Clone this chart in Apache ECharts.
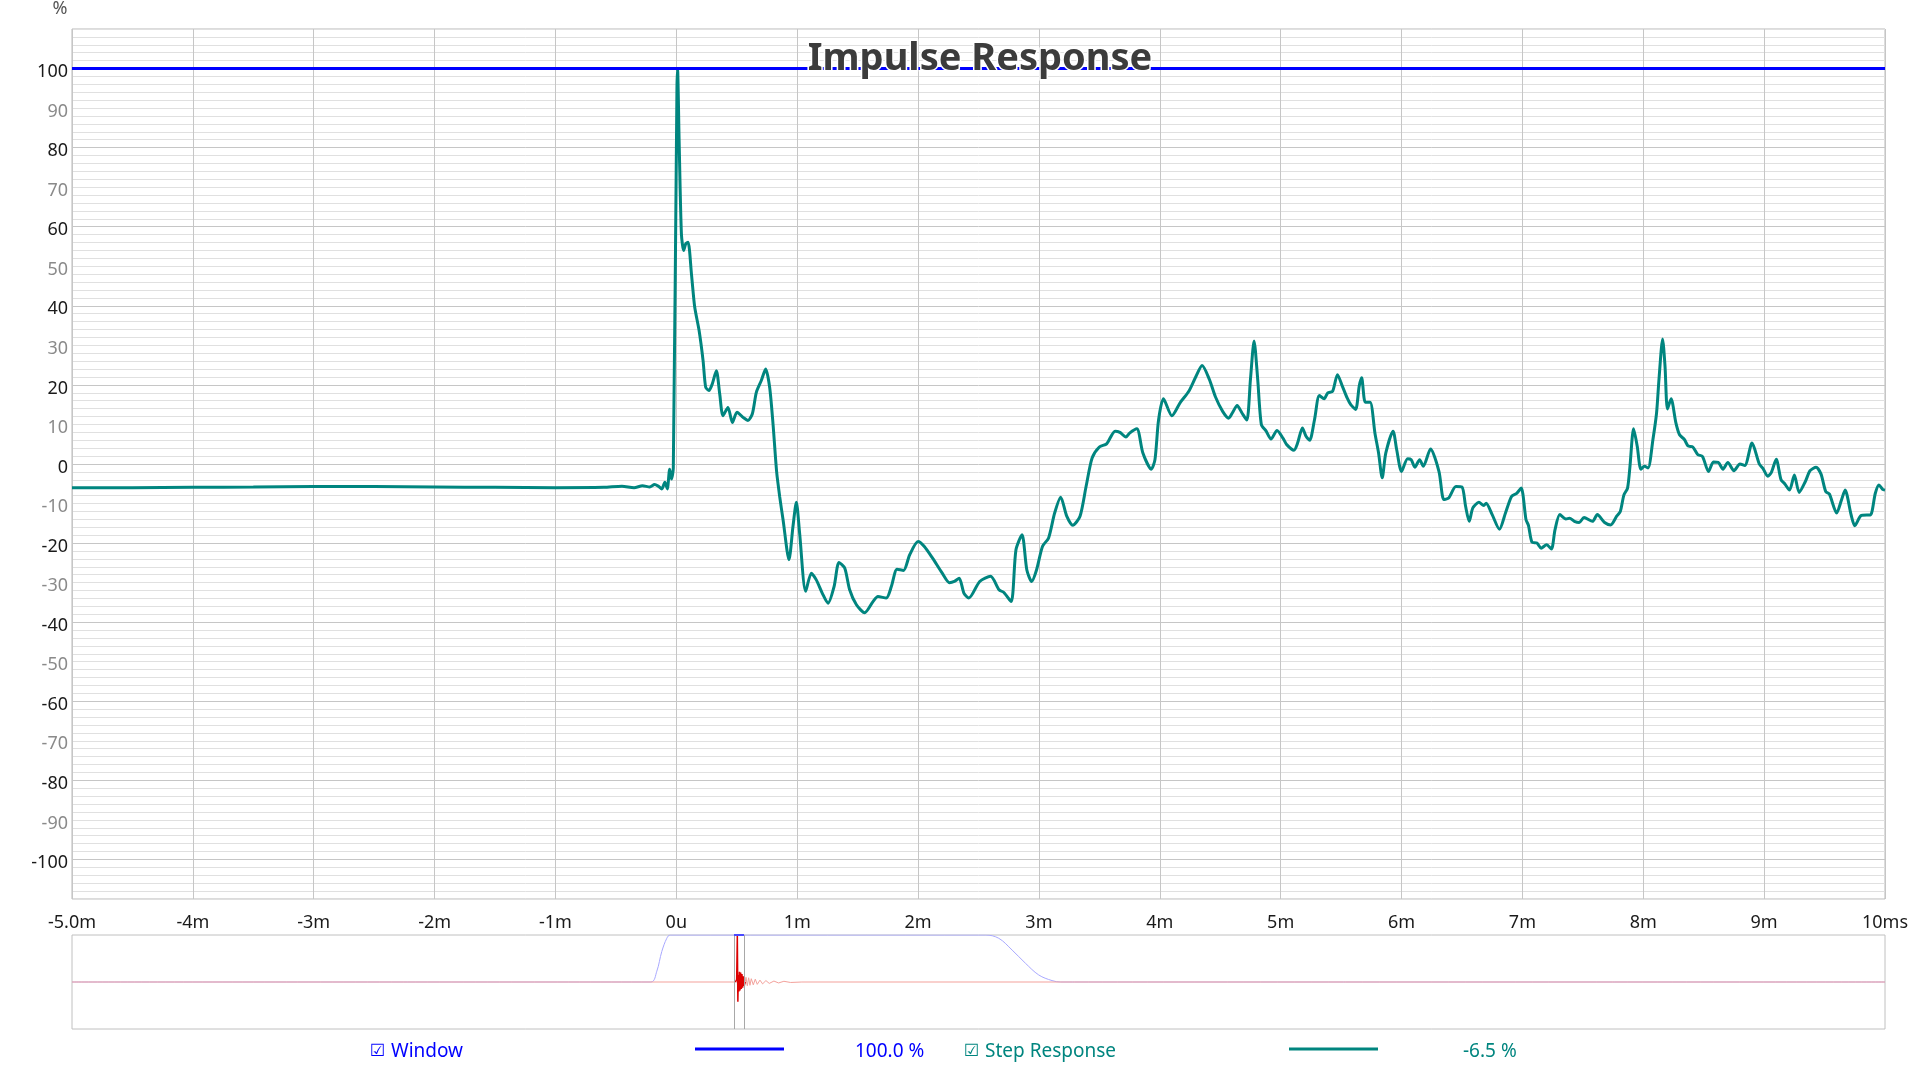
<!DOCTYPE html>
<html>
<head>
<meta charset="utf-8">
<script src="https://cdn.jsdelivr.net/npm/echarts@6/dist/echarts.min.js"></script>
<style>
html,body{margin:0;padding:0;background:#fff;}
#chart{width:1920px;height:1066px;}
</style>
</head>
<body>
<div id="chart"></div>
<script>
// ---------- data ----------
const chartTitle = 'Impulse Response';
const xTickLabels = ['-5.0m','-4m','-3m','-2m','-1m','0u','1m','2m','3m','4m','5m','6m','7m','8m','9m','10ms'];

const stepTimes = [
 -5.0,-4.5,-4.0,-3.5,-3.0,-2.5,-2.0,-1.5,-1.0,-0.6,-0.45,-0.35,-0.28,-0.22,-0.18,-0.15,-0.12,-0.095,-0.075,-0.055,-0.04,-0.025,
 0.005,0.01,0.023,0.042,0.061,0.078,0.097,0.125,0.152,0.188,0.221,0.243,0.27,0.298,0.331,0.359,0.386,0.427,0.464,0.502,0.552,0.593,0.629,0.662,0.703,0.739,0.772,0.80,0.83,
 0.855,0.883,0.932,0.965,0.993,1.02,1.07,1.117,1.158,1.208,1.255,1.305,1.346,1.393,1.434,1.49,1.558,1.627,1.668,1.737,1.779,1.826,1.88,1.93,
 2.0,2.05,2.12,2.2,2.26,2.3,2.34,2.38,2.42,2.51,2.6,2.67,2.71,2.77,2.81,2.86,2.9,2.94,2.98,
 3.03,3.08,3.13,3.18,3.23,3.28,3.34,3.39,3.44,3.5,3.56,3.63,3.67,3.72,3.75,3.81,3.86,3.93,3.96,3.99,
 4.03,4.1,4.17,4.24,4.3,4.35,4.41,4.46,4.52,4.57,4.6,4.64,4.68,4.72,4.75,4.78,4.81,4.84,4.88,4.92,4.97,
 5.02,5.05,5.11,5.14,5.18,5.21,5.24,5.28,5.32,5.36,5.39,5.43,5.47,5.51,5.55,5.58,5.62,5.65,5.67,5.7,5.74,5.78,5.81,5.84,5.87,5.93,5.96,
 6.0,6.05,6.08,6.11,6.15,6.18,6.24,6.31,6.35,6.39,6.45,6.5,6.53,6.56,6.59,6.64,6.68,6.7,6.75,6.81,6.86,6.91,6.95,6.99,
 7.03,7.05,7.08,7.12,7.155,7.2,7.24,7.27,7.31,7.36,7.39,7.43,7.47,7.51,7.58,7.62,7.68,7.73,7.78,7.81,7.84,7.87,7.89,7.92,7.95,7.98,
 8.01,8.04,8.08,8.11,8.13,8.16,8.18,8.2,8.23,8.27,8.3,8.34,8.37,8.41,8.45,8.49,8.54,8.58,8.62,8.66,8.7,8.75,8.8,8.84,8.9,8.96,8.99,
 9.03,9.06,9.1,9.14,9.17,9.21,9.25,9.29,9.34,9.38,9.43,9.47,9.51,9.54,9.6,9.64,9.67,9.72,9.75,9.8,9.85,9.88,9.92,9.95,9.98,10.0
];
const stepValues = [
 -6.0,-6.0,-5.9,-5.8,-5.7,-5.7,-5.8,-5.9,-6.0,-5.9,-5.6,-6.0,-5.5,-5.8,-5.2,-5.6,-6.3,-4.6,-6.3,-1.3,-3.8,-1.0,
 95,100,81.9,58.2,54.0,55.7,56.1,48.1,39.7,33.8,26.2,19.4,18.6,20.3,23.6,17.7,12.2,14.3,10.5,13.1,11.8,11.0,12.7,18.1,21.1,24.0,19.4,10.1,-2,
 -8.2,-14.1,-24.2,-15.8,-9.7,-17.5,-32.2,-27.6,-29.3,-32.7,-35.2,-31.0,-24.9,-26.3,-31.8,-35.6,-37.6,-34.8,-33.5,-33.9,-31.0,-26.6,-26.9,-23.0,
 -19.6,-20.8,-23.8,-27.6,-30.0,-29.7,-28.9,-32.7,-33.9,-29.7,-28.4,-31.8,-32.5,-34.8,-21.7,-17.9,-26.8,-29.7,-26.8,
 -20.8,-18.7,-12.4,-8.4,-13.2,-15.5,-13.2,-5.7,1.5,4.3,5.1,8.3,8.0,6.8,7.8,8.9,2.8,-1.3,1.1,11.2,
 16.5,12.2,15.6,18.4,22.2,24.9,21.4,17.0,13.3,11.6,12.9,14.8,12.9,11.1,21.4,31.1,21.4,10.0,8.3,6.3,8.5,
 6.5,4.9,3.5,5.3,9.1,7.0,6.0,11.2,17.3,16.5,18.0,18.4,22.6,19.7,16.7,15.0,13.8,19.7,21.8,15.6,15.6,7.8,2.8,-3.5,2.8,8.3,3.6,
 -1.9,1.3,1.1,-0.8,1.1,-0.6,3.8,-1.9,-9.0,-8.6,-5.7,-5.8,-10.7,-14.5,-11.1,-9.7,-10.5,-9.9,-12.8,-16.5,-12.4,-8.2,-7.5,-6.1,
 -14.1,-15.5,-19.8,-20.0,-21.3,-20.4,-21.5,-16.6,-12.8,-13.9,-13.7,-14.5,-14.8,-13.5,-14.5,-12.8,-14.8,-15.4,-13.2,-12.0,-7.8,-6.1,-0.6,8.9,4.5,-1.3,
 -0.6,-1.0,6.2,12.9,21.4,31.6,24.7,13.9,16.5,10.4,7.4,6.2,4.6,4.3,2.4,1.9,-1.9,0.5,0.4,-1.3,0.4,-1.7,0.0,-0.4,5.3,0.0,-1.1,
 -3.1,-2.1,1.2,-4.0,-5.0,-6.6,-2.8,-7.2,-4.5,-1.7,-0.8,-2.5,-7.0,-7.6,-12.4,-9.1,-6.6,-12.9,-15.6,-13.1,-12.9,-12.9,-7.4,-5.3,-6.4,-6.6
];
const windowLevel = 100;           // Window trace, %
const viewRange = [-5, 10];        // main view range (ms), marked in overview

// overview strip (time in ms, normalised amplitude)
const ovWinTimes  = [-1000,-130,-121,-113.5,-106,-101,373,393,413,433,453,473,486,1725];
const ovWinValues = [0,0,0.23,0.65,0.93,1,1,0.93,0.68,0.40,0.15,0.03,0,0];
const ovSpikeTimes  = [-3,-1,0,0.8,1.6,2.4,3.2,4,5,6,7,8,9,10,12];
const ovSpikeValues = [0,0.05,1,-0.42,0.15,-0.2,0.22,-0.18,0.2,-0.15,0.17,-0.12,0.12,-0.08,0];
const ovTailTimes  = [-1000,8,9,11,13,15,17,19,21,24,27,30,34,38,43,48,55,62,70,80,97,1725];
const ovTailValues = [0,0,0.1,-0.09,0.1,-0.08,0.09,-0.07,0.07,-0.06,0.06,-0.05,0.04,-0.04,0.03,-0.03,0.02,-0.02,0.015,-0.01,0,0];

const legendWindowValue = '100.0 %';
const legendStepValue = '-6.5 %';

// ---------- build ----------
const zip = (a, b) => a.map((v, i) => [v, b[i]]);
const stepData = zip(stepTimes, stepValues);
const windowData = [[viewRange[0], windowLevel], [viewRange[1], windowLevel]];

const FONT = '"Noto Sans", "DejaVu Sans", sans-serif';
const BLUE = '#0000ff';
const TEAL = '#00857f';

const chart = echarts.init(document.getElementById('chart'), null, {renderer: 'canvas'});

chart.setOption({
  animation: false,
  backgroundColor: '#ffffff',
  title: {
    text: chartTitle,
    left: 975,
    top: 35,
    textAlign: 'center',
    textStyle: {
      fontFamily: FONT, fontSize: 38, fontWeight: 'bold', color: '#3c3c3c',
      textBorderColor: '#ffffff', textBorderWidth: 3
    }
  },
  grid: [
    {left: 72, right: 35, top: 29, bottom: 167, show: true, borderColor: '#b8b8b8', borderWidth: 1},
    {left: 72, right: 35, top: 935, height: 94, show: true, borderColor: '#c0c0c0', borderWidth: 1}
  ],
  xAxis: [
    {
      type: 'value', gridIndex: 0, min: -5, max: 10, interval: 1,
      axisLine: {show: false, onZero: false}, axisTick: {show: false},
      axisLabel: {
        fontFamily: FONT, fontSize: 18, color: '#1a1a1a', margin: 15,
        showMinLabel: true, showMaxLabel: true,
        formatter: v => xTickLabels[Math.round(v) + 5]
      },
      splitLine: {show: true, lineStyle: {color: '#c6c6c6', width: 1}}
    },
    {type: 'value', gridIndex: 1, min: -1000, max: 1725, show: false}
  ],
  yAxis: [
    {
      type: 'value', gridIndex: 0, min: -110, max: 110, interval: 10,
      name: '%', nameLocation: 'end', nameGap: 11,
      nameTextStyle: {fontFamily: FONT, fontSize: 18, color: '#555555', padding: [0, 24, 0, 0]},
      axisLine: {show: false, onZero: false}, axisTick: {show: false},
      axisLabel: {
        fontFamily: FONT, fontSize: 18, margin: 4, verticalAlign: 'top', lineHeight: 7,
        formatter: v => (Math.abs(v) > 100 ? '' : String(v)),
        color: v => (Math.round(v) % 20 === 0 ? '#1a1a1a' : '#8a8a8a')
      },
      splitLine: {show: true, lineStyle: {color: ['#e0e0e0', '#c6c6c6'], width: 1}},
      minorTick: {show: false, splitNumber: 5},
      minorSplitLine: {show: true, lineStyle: {color: '#e0e0e0', width: 1}}
    },
    {type: 'value', gridIndex: 1, min: -1, max: 1, show: false}
  ],
  series: [
    {
      name: 'Step Response', type: 'line', xAxisIndex: 0, yAxisIndex: 0,
      data: stepData, showSymbol: false, smooth: 0.25, z: 3,
      lineStyle: {color: TEAL, width: 3}, silent: true
    },
    {
      name: 'Window', type: 'line', xAxisIndex: 0, yAxisIndex: 0,
      data: windowData, showSymbol: false, z: 4,
      lineStyle: {color: BLUE, width: 3}, silent: true
    },
    {
      name: 'ovWindow', type: 'line', xAxisIndex: 1, yAxisIndex: 1,
      data: zip(ovWinTimes, ovWinValues), showSymbol: false, smooth: 0.35, z: 2,
      lineStyle: {color: '#a8a8ff', width: 1}, silent: true,
      markLine: {
        silent: true, symbol: 'none', label: {show: false},
        lineStyle: {color: '#a8a8a8', width: 1, type: 'solid'},
        data: [{xAxis: viewRange[0]}, {xAxis: viewRange[1]}]
      }
    },
    {
      name: 'ovTail', type: 'line', xAxisIndex: 1, yAxisIndex: 1,
      data: zip(ovTailTimes, ovTailValues), showSymbol: false, z: 3,
      lineStyle: {color: '#f3a19b', width: 1}, silent: true
    },
    {
      name: 'ovSpike', type: 'line', xAxisIndex: 1, yAxisIndex: 1,
      data: zip(ovSpikeTimes, ovSpikeValues), showSymbol: false, z: 4,
      lineStyle: {color: '#dd0000', width: 1.5}, silent: true
    },
    {
      name: 'ovView', type: 'line', xAxisIndex: 1, yAxisIndex: 1,
      data: [[viewRange[0], 1], [viewRange[1], 1]], showSymbol: false, z: 5,
      lineStyle: {color: '#4a4aff', width: 2}, silent: true
    }
  ],
  graphic: [
    {type: 'text', left: 370, top: 1043, style: {text: '\u2611', fill: BLUE, font: '17px "DejaVu Sans"'}},
    {type: 'text', left: 391, top: 1042, style: {text: 'Window', fill: BLUE, font: '19px ' + FONT}},
    {type: 'line', shape: {x1: 695, y1: 1049, x2: 784, y2: 1049}, style: {stroke: BLUE, lineWidth: 3}},
    {type: 'text', left: 855, top: 1042, style: {text: legendWindowValue, fill: BLUE, font: '19px ' + FONT}},
    {type: 'text', left: 964, top: 1043, style: {text: '\u2611', fill: TEAL, font: '17px "DejaVu Sans"'}},
    {type: 'text', left: 985, top: 1042, style: {text: 'Step Response', fill: TEAL, font: '19px ' + FONT}},
    {type: 'line', shape: {x1: 1289, y1: 1049, x2: 1378, y2: 1049}, style: {stroke: TEAL, lineWidth: 3}},
    {type: 'text', left: 1463, top: 1042, style: {text: legendStepValue, fill: TEAL, font: '19px ' + FONT}}
  ]
});
</script>
</body>
</html>
